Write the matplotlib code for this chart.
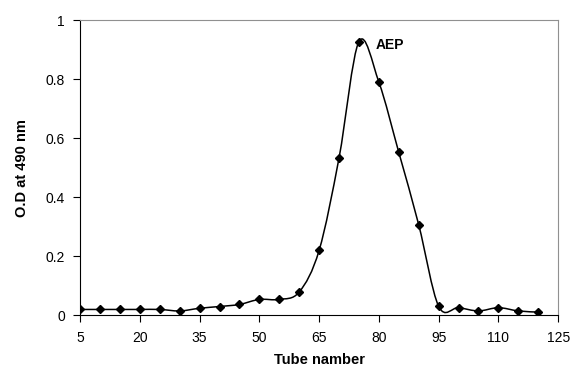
import matplotlib
matplotlib.use("Agg")
import matplotlib.pyplot as plt
import numpy as np
from matplotlib.path import Path
from matplotlib.patches import PathPatch

plt.rcParams['font.family'] = ['Liberation Sans', 'DejaVu Sans']

# 数据
tube = [5, 10, 15, 20, 25, 30, 35, 40, 45, 50, 55, 60, 65, 70, 75, 80,
        85, 90, 95, 100, 105, 110, 115, 120]
od = [0.02, 0.02, 0.02, 0.02, 0.02, 0.015, 0.024, 0.03, 0.037, 0.054, 0.054, 0.079,
      0.22, 0.533, 0.927, 0.79, 0.552, 0.307, 0.031, 0.026, 0.015, 0.026, 0.015, 0.011]
xticks = [5, 20, 35, 50, 65, 80, 95, 110, 125]
yticks = [0, 0.2, 0.4, 0.6, 0.8, 1]


# 平滑曲线（类似 Excel 的平滑线），用贝塞尔控制点
def smooth_path(x, y):
    p = np.column_stack([x, y]).astype(float)
    n = len(p)
    verts = [p[0]]
    codes = [Path.MOVETO]
    for i in range(n - 1):
        p0 = p[i - 1] if i > 0 else p[i]
        p1 = p[i]
        p2 = p[i + 1]
        p3 = p[i + 2] if i + 2 < n else p[i + 1]
        c1 = p1 + (p2 - p0) / 6.0
        c2 = p2 - (p3 - p1) / 6.0
        verts += [c1, c2, p2]
        codes += [Path.CURVE4] * 3
    return Path(verts, codes)


fig = plt.figure(figsize=(5.76, 3.86), dpi=100)
ax = fig.add_axes([0.139, 0.183, 0.830, 0.765])

ax.add_patch(PathPatch(smooth_path(tube, od), facecolor='none', edgecolor='black', lw=1.1))
ax.plot(tube, od, linestyle='none', marker='D', markersize=4, color='black')

ax.text(79.3, 0.915, 'AEP', fontsize=10, fontweight='bold', va='center', ha='left')

narrow = ['Liberation Sans Narrow', 'Liberation Sans']
ax.set_xlim(5, 125)
ax.set_ylim(0, 1)
ax.set_xticks(xticks)
ax.set_yticks(yticks)
ax.set_yticklabels(['0', '0.2', '0.4', '0.6', '0.8', '1'])
ax.tick_params(direction='out', length=5, width=0.8, labelsize=10, pad=6)
ax.set_xlabel('Tube namber', fontsize=10.5, fontweight='bold', labelpad=6, family=narrow)
ax.set_ylabel('O.D at 490 nm', fontsize=10.5, fontweight='bold', labelpad=12, family=narrow)

for s in ['top', 'right']:
    ax.spines[s].set_color('#909090')
for s in ['left', 'bottom']:
    ax.spines[s].set_color('black')

fig.savefig('out.png', dpi=100)
